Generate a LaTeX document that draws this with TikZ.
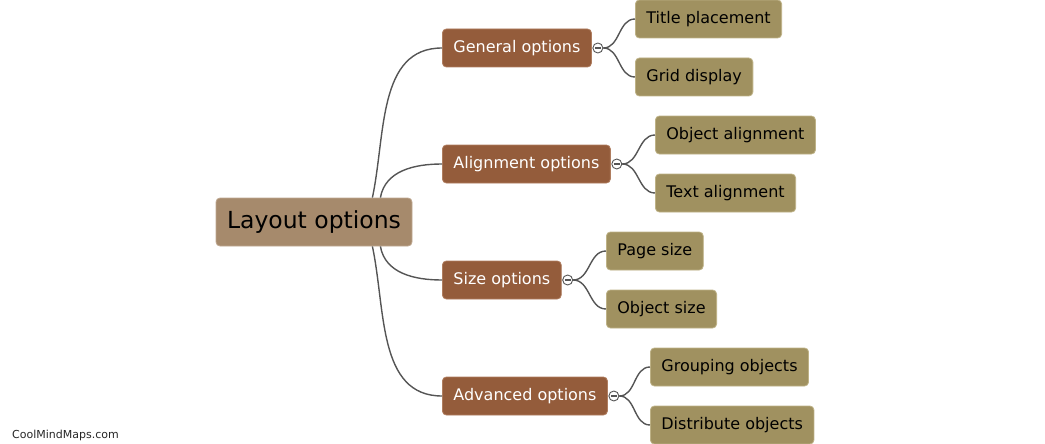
\documentclass[tikz,border=0pt]{standalone}
\usepackage{fontspec}
\setmainfont{DejaVu Sans}
\definecolor{rootfill}{RGB}{166,138,108}
\definecolor{rootline}{RGB}{190,168,145}
\definecolor{optfill}{RGB}{148,92,59}
\definecolor{optline}{RGB}{175,125,95}
\definecolor{leaffill}{RGB}{160,145,96}
\definecolor{leafline}{RGB}{190,178,135}
\definecolor{wire}{RGB}{85,85,85}

\begin{document}
\begin{tikzpicture}[x=1pt,y=-1pt,
  rootbox/.style={draw=rootline,fill=rootfill,rounded corners=4pt,line width=0.8pt,
    minimum width=196pt,minimum height=48pt,inner xsep=10pt,font=\fontsize{23.5}{28}\selectfont,text=black},
  optbox/.style={draw=optline,fill=optfill,rounded corners=4pt,line width=0.8pt,anchor=west,
    minimum height=38pt,inner xsep=11pt,font=\fontsize{16}{19}\selectfont,text=white},
  leafbox/.style={draw=leafline,fill=leaffill,rounded corners=4pt,line width=0.8pt,anchor=west,
    minimum height=38pt,inner xsep=11pt,font=\fontsize{16}{19}\selectfont,text=black},
  fold/.style={circle,draw=wire,fill=white,line width=0.9pt,minimum size=10pt,inner sep=0pt,
    path picture={\draw[wire,line width=1.4pt]
      ([xshift=-3pt]path picture bounding box.center) -- ([xshift=3pt]path picture bounding box.center);}},
  wireline/.style={draw=wire,line width=1.4pt}]
  \useasboundingbox (0,0) rectangle (1045,444);
  \node[rootbox] (root) at (314,222) {Layout options};
  \node[optbox] (general) at (442,48) {General options};
  \node[optbox] (align) at (442,164) {Alignment options};
  \node[optbox] (size) at (442,280) {Size options};
  \node[optbox] (adv) at (442,396) {Advanced options};
  \node[leafbox] (title) at (635,19) {Title placement};
  \node[leafbox] (grid) at (635,77) {Grid display};
  \node[leafbox] (objalign) at (655,135) {Object alignment};
  \node[leafbox] (textalign) at (655,193) {Text alignment};
  \node[leafbox] (page) at (606,251) {Page size};
  \node[leafbox] (objsize) at (606,309) {Object size};
  \node[leafbox] (group) at (650,367) {Grouping objects};
  \node[leafbox] (dist) at (650,425) {Distribute objects};
  \draw[wireline] ([xshift=-40pt]root.north east) to[out=78,in=180] (general.west);
  \draw[wireline] ([xshift=-32pt]root.north east) to[out=80,in=180] (align.west);
  \draw[wireline] ([xshift=-32pt]root.south east) to[out=-80,in=180] (size.west);
  \draw[wireline] ([xshift=-40pt]root.south east) to[out=-78,in=180] (adv.west);
  \node[fold] (general-f) at ([xshift=6pt]general.east) {};
  \node[fold] (align-f) at ([xshift=6pt]align.east) {};
  \node[fold] (size-f) at ([xshift=6pt]size.east) {};
  \node[fold] (adv-f) at ([xshift=6pt]adv.east) {};
  \draw[wireline] (general-f.east) to[out=0,in=180] (title.west);
  \draw[wireline] (general-f.east) to[out=0,in=180] (grid.west);
  \draw[wireline] (align-f.east) to[out=0,in=180] (objalign.west);
  \draw[wireline] (align-f.east) to[out=0,in=180] (textalign.west);
  \draw[wireline] (size-f.east) to[out=0,in=180] (page.west);
  \draw[wireline] (size-f.east) to[out=0,in=180] (objsize.west);
  \draw[wireline] (adv-f.east) to[out=0,in=180] (group.west);
  \draw[wireline] (adv-f.east) to[out=0,in=180] (dist.west);
  \node[anchor=west,inner sep=0pt,font=\fontsize{11}{13}\selectfont,text=black!85] (mark) at (12,435) {CoolMindMaps.com};
\end{tikzpicture}
\end{document}
